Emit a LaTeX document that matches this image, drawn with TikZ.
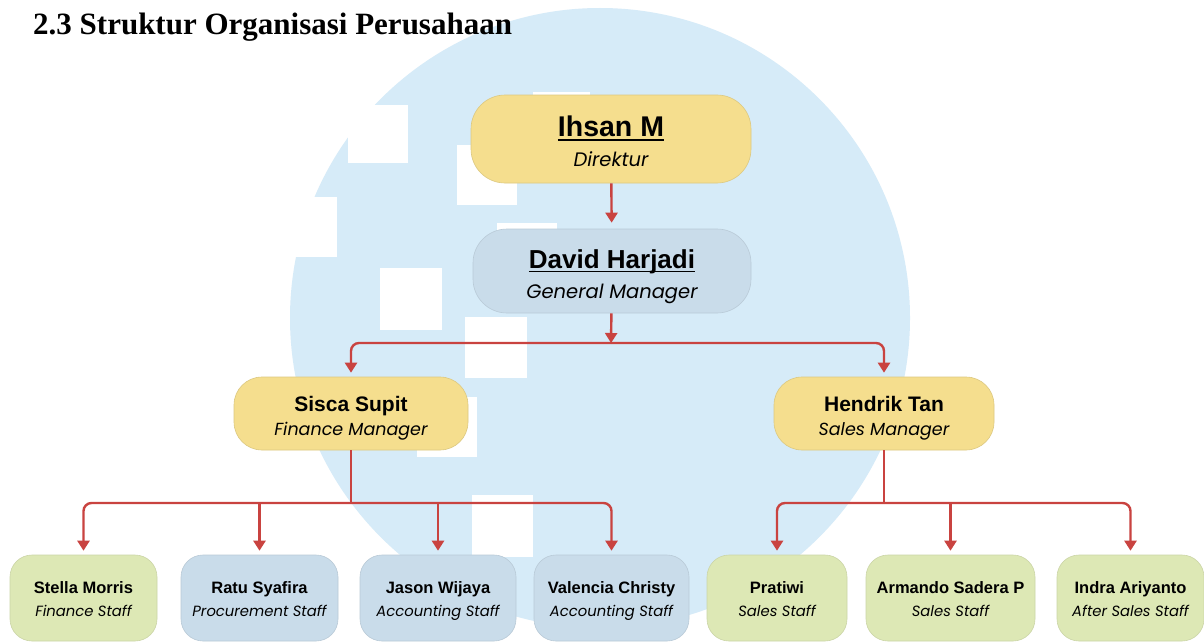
\documentclass[tikz,border=0pt]{standalone}
\usepackage{fontspec}
\setmainfont{Liberation Serif}
\newfontfamily\namefont{Liberation Sans}
\newfontfamily\rolefont{Poppins}
\usetikzlibrary{arrows.meta}

\definecolor{wmblue}{HTML}{D6EBF8}
\definecolor{boxyellow}{HTML}{F5DE8E}
\definecolor{boxblue}{HTML}{C9DCEA}
\definecolor{boxgreen}{HTML}{DDE8B5}
\definecolor{linkred}{HTML}{C94340}

\newcommand\nameline[1]{\setbox0\hbox{#1}\rlap{\rule[-4pt]{\wd0}{1.8pt}}\box0}
\newcommand\headname[2][26]{{\namefont\bfseries\fontsize{#1}{30}\selectfont\rule{0pt}{30pt}\nameline{#2}}}
\newcommand\headrole[1]{{\rolefont\itshape\fontsize{19.5}{30}\selectfont\rule[-5pt]{0pt}{5pt}#1}}
\newcommand\mgrname[1]{{\namefont\bfseries\fontsize{21}{24}\selectfont\rule{0pt}{25pt}#1}}
\newcommand\mgrrole[1]{{\rolefont\itshape\fontsize{17.5}{24}\selectfont #1}}
\newcommand\staffname[1]{{\namefont\bfseries\fontsize{16.5}{23}\selectfont\rule{0pt}{18.5pt}#1}}
\newcommand\staffrole[1]{{\rolefont\itshape\fontsize{14.8}{23}\selectfont\rule[-4.5pt]{0pt}{4.5pt}#1}}

\tikzset{
  orgbox/.style={rectangle, inner sep=0pt, align=center},
  headbox/.style={orgbox, rounded corners=34pt, minimum width=280pt, minimum height=88pt, font=\fontsize{18}{30}\selectfont},
  mgrbox/.style={orgbox, rounded corners=28pt, minimum height=73pt, font=\fontsize{16}{24.5}\selectfont},
  staffbox/.style={orgbox, rounded corners=22pt, minimum height=86pt, font=\fontsize{14}{23}\selectfont},
  yellow/.style={fill=boxyellow, draw=boxyellow!90!black, line width=0.6pt},
  blue/.style={fill=boxblue, draw=boxblue!92!black, line width=0.6pt},
  green/.style={fill=boxgreen, draw=boxgreen!92!black, line width=0.6pt},
  line/.style={draw=linkred, line width=2.4pt},
  link/.style={line, -{Triangle[width=12pt,length=10pt]}, shorten >=4pt},
  wmsq/.style={fill=white}
}

\begin{document}
\begin{tikzpicture}[x=1pt,y=-1pt]
\useasboundingbox (0,0) rectangle (1204,642);
\fill[white] (0,0) rectangle (1204,642);

% watermark
\begin{scope}
\clip (0,0) rectangle (1204,642);
\fill[wmblue] (600,318) circle (310pt);
\end{scope}
\fill[wmsq] (348,105) rectangle ++(60,58);
\fill[wmsq] (457,145) rectangle ++(60,60);
\fill[wmsq] (533,92) rectangle ++(57,58);
\fill[wmsq] (277,197) rectangle ++(60,60);
\fill[wmsq] (380,268) rectangle ++(62,62);
\fill[wmsq] (497,223) rectangle ++(60,60);
\fill[wmsq] (465,317) rectangle ++(62,61);
\fill[wmsq] (417,397) rectangle ++(60,60);
\fill[wmsq] (472,495) rectangle ++(61,62);

\node[anchor=base west, inner sep=0pt] (title) at (33,35) {\bfseries\fontsize{31}{37}\selectfont 2.3 Struktur Organisasi Perusahaan};

% direktur and gm
\node[headbox, yellow] (ihsan) at (611,139) {\headname[28.5]{Ihsan M}\\\headrole{Direktur}};
\node[headbox, blue, minimum width=278pt, minimum height=84pt] (david) at (612,271) {\headname{David Harjadi}\\\headrole{General Manager}};

% managers
\node[mgrbox, yellow, minimum width=234pt] (sisca) at (351,413.5) {\mgrname{Sisca Supit}\\\mgrrole{Finance Manager}};
\node[mgrbox, yellow, minimum width=220pt] (hendrik) at (884,413.5) {\mgrname{Hendrik Tan}\\\mgrrole{Sales Manager}};

% staff
\node[staffbox, green, minimum width=147pt] (stella) at (83.5,598) {\staffname{Stella Morris}\\\staffrole{Finance Staff}};
\node[staffbox, blue, minimum width=157pt] (ratu) at (259.5,598) {\staffname{Ratu Syafira}\\\staffrole{Procurement Staff}};
\node[staffbox, blue, minimum width=156pt] (jason) at (438,598) {\staffname{Jason Wijaya}\\\staffrole{Accounting Staff}};
\node[staffbox, blue, minimum width=155pt] (valencia) at (611.5,598) {\staffname{Valencia Christy}\\\staffrole{Accounting Staff}};
\node[staffbox, green, minimum width=140pt] (pratiwi) at (777,598) {\staffname{Pratiwi}\\\staffrole{Sales Staff}};
\node[staffbox, green, minimum width=169pt] (armando) at (950.5,598) {\staffname{Armando Sadera P}\\\staffrole{Sales Staff}};
\node[staffbox, green, minimum width=147pt] (indra) at (1130.5,598) {\staffname{Indra Ariyanto}\\\staffrole{After Sales Staff}};

% connectors
\coordinate (gmbus) at (611,343);
\coordinate (finbus) at (sisca.south |- 0,503);
\coordinate (salbus) at (hendrik.south |- 0,503);

\draw[link, shorten >=6pt] (ihsan) -- (david);
\draw[link, shorten >=0pt] (david) -- (gmbus);
\draw[link, rounded corners=8pt] (gmbus) -| (sisca);
\draw[link, rounded corners=8pt] (gmbus) -| (hendrik);

\draw[line] (sisca) -- (finbus);
\draw[link, rounded corners=8pt] (finbus) -| (stella);
\draw[link, rounded corners=8pt] (finbus) -| (valencia);
\draw[link] (ratu |- finbus) -- (ratu);
\draw[link] (jason |- finbus) -- (jason);

\draw[line] (hendrik) -- (salbus);
\draw[link, rounded corners=8pt] (salbus) -| (pratiwi);
\draw[link, rounded corners=8pt] (salbus) -| (indra);
\draw[link] (armando |- salbus) -- (armando);
\end{tikzpicture}
\end{document}
